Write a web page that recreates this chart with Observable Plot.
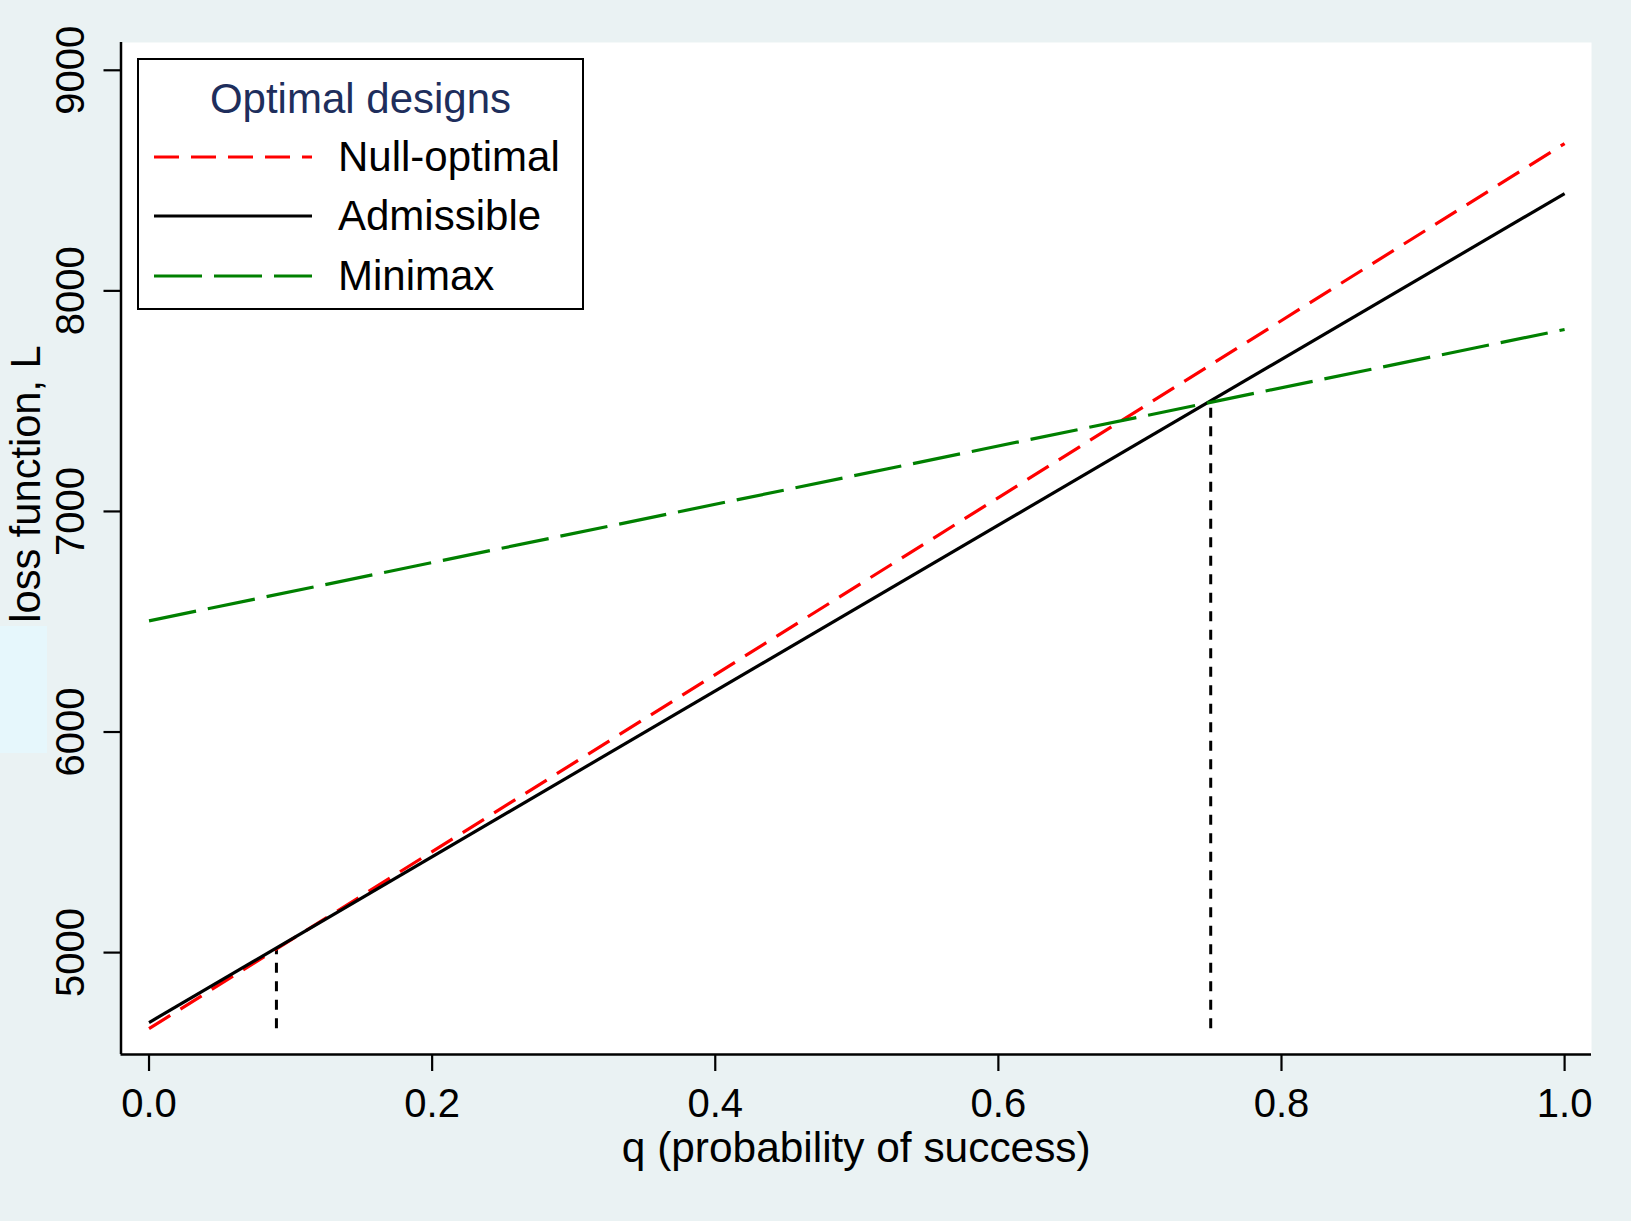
<!DOCTYPE html>
<html>
<head>
<meta charset="utf-8">
<script src="https://cdn.jsdelivr.net/npm/d3@7"></script>
<script src="https://cdn.jsdelivr.net/npm/@observablehq/plot@0.6"></script>
<style>
  html, body { margin: 0; padding: 0; background: #eaf2f3; }
  body { width: 1631px; height: 1221px; position: relative; overflow: hidden; font-family: "Liberation Sans", Arial, sans-serif; }
  #chart { position: absolute; left: 0; top: 0; }
  #patch { position: absolute; left: 0; top: 626px; width: 47px; height: 127px; background: #e6f7fc; }
  #legend { position: absolute; left: 137px; top: 58px; width: 443px; height: 248px; background: #fff; border: 2px solid #000; }
  #legend .ttl { position: absolute; left: 0; width: 100%; top: 16px; text-align: center; font-size: 42px; color: #1e2e5c; line-height: 46px; }
  #legend .row { position: absolute; left: 0; height: 46px; width: 100%; }
  #legend .row svg { position: absolute; left: 15px; top: 0; }
  #legend .row span { position: absolute; left: 199px; top: 0; font-size: 42px; line-height: 46px; color: #000; }
</style>
</head>
<body>
<div id="patch"></div>
<div id="chart"></div>
<div id="legend"></div>
<script>
// ---- data ----
const qEnds = [0, 1];
const seriesNames = ["Null-optimal", "Admissible", "Minimax"];
const nullOptimal = [4655, 8668];
const admissible = [4683, 8441];
const minimax = [6504, 7825];
const seriesColors = ["#ff0000", "#000000", "#008000"];
const seriesDash = ["25 12", null, "48 12"];
const dropQ = [0.09, 0.75];
const dropTop = [5021, 7500];
const dropBottom = [4655, 4655];
const xTicks = [0, 0.2, 0.4, 0.6, 0.8, 1.0];
const yTicks = [5000, 6000, 7000, 8000, 9000];
const xDomain = [-0.0198, 1.019];
const yDomain = [4538, 9126];
const xLabel = "q (probability of success)";
const yLabel = "loss function, L";
const legendTitle = "Optimal designs";

// ---- build tables ----
const seriesVals = [nullOptimal, admissible, minimax];
const lines = seriesNames.map((name, i) =>
  qEnds.map((q, j) => ({series: name, q, L: seriesVals[i][j]})));
const drops = dropQ.map((q, i) => ({q, y1: dropBottom[i], y2: dropTop[i]}));

const W = 1631, H = 1221;
const chart = Plot.plot({
  width: W,
  height: H,
  marginLeft: 120.5,
  marginRight: 40,
  marginTop: 42,
  marginBottom: 167,
  style: {background: "transparent", fontFamily: "'Liberation Sans', Arial, sans-serif", fontSize: "40px", color: "#000", overflow: "visible"},
  x: {domain: xDomain, label: null},
  y: {domain: yDomain, label: null},
  marks: [
    Plot.frame({fill: "white", stroke: "none"}),
    // drop lines
    Plot.ruleX(drops, {x: "q", y1: "y1", y2: "y2", stroke: "#000", strokeWidth: 3, strokeDasharray: "10 8.5"}),
    // series
    ...lines.map((data, i) => Plot.line(data, {
      x: "q", y: "L", stroke: seriesColors[i], strokeWidth: 3.2,
      strokeDasharray: seriesDash[i] || undefined, strokeLinecap: "butt"
    })),
    // axes lines
    Plot.ruleX([xDomain[0]], {stroke: "#000", strokeWidth: 2.5}),
    Plot.ruleY([yDomain[0]], {stroke: "#000", strokeWidth: 2.5}),
    // x axis
    Plot.axisX({ticks: xTicks, tickSize: 17, tickPadding: 17, strokeWidth: 2.2, tickFormat: d3.format(".1f"), fontSize: 40, label: null}),
    // y axis ticks
    Plot.axisY({ticks: yTicks, tickSize: 17, strokeWidth: 2.2, tickFormat: () => "", label: null}),
    // y tick labels rotated
    Plot.text(yTicks, {y: d => d, text: d => String(d), frameAnchor: "left", rotate: -90, textAnchor: "middle", lineAnchor: "bottom", dx: -37, fontSize: 40, fill: "#000"}),
    // axis titles
    Plot.text([xLabel], {text: d => d, frameAnchor: "bottom", lineAnchor: "bottom", dy: 107, fontSize: 42.4, fill: "#000"}),
    Plot.text([yLabel], {text: d => d, frameAnchor: "left", rotate: -90, textAnchor: "middle", lineAnchor: "bottom", dx: -81.5, dy: 483.5 - (42 + (1054 - 42) / 2), fontSize: 41.6, fill: "#000"})
  ]
});
document.getElementById("chart").appendChild(chart);

// ---- legend ----
const legend = document.getElementById("legend");
const t = document.createElement("div");
t.className = "ttl";
t.textContent = legendTitle;
legend.appendChild(t);
const rowTops = [74, 133, 192.5];
seriesNames.forEach((name, i) => {
  const row = document.createElement("div");
  row.className = "row";
  row.style.top = rowTops[i] + "px";
  const dash = seriesDash[i] ? `stroke-dasharray="${seriesDash[i]}"` : "";
  row.innerHTML = `<svg width="160" height="46"><line x1="0" x2="158" y1="23" y2="23" stroke="${seriesColors[i]}" stroke-width="3.2" ${dash}/></svg><span>${name}</span>`;
  legend.appendChild(row);
});
</script>
</body>
</html>
